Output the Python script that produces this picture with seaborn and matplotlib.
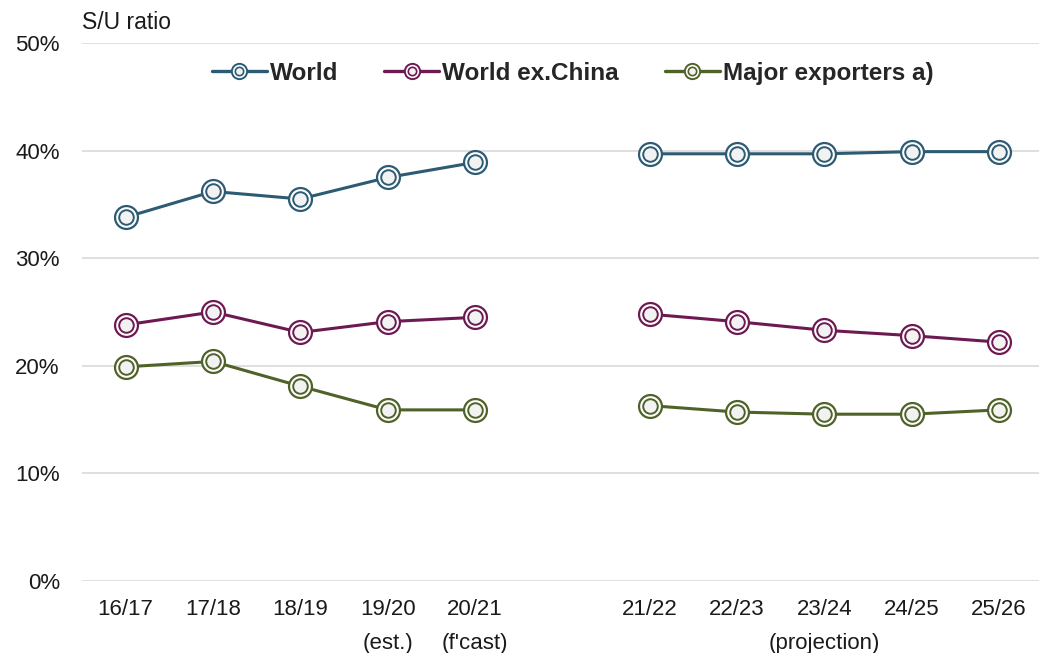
import pandas as pd
import matplotlib.pyplot as plt
import seaborn as sns
from matplotlib.lines import Line2D

# ─────────────────────────────────────────────
# DATA
# ─────────────────────────────────────────────
seasons = ['16/17', '17/18', '18/19', '19/20', '20/21',
           '21/22', '22/23', '23/24', '24/25', '25/26']
tick_labels = ['16/17', '17/18', '18/19', '19/20\n(est.)', "20/21\n(f'cast)",
               '21/22', '22/23', '23/24\n(projection)', '24/25', '25/26']
period = ['hist'] * 5 + ['proj'] * 5

world = [33.8, 36.2, 35.5, 37.5, 38.9, 39.7, 39.7, 39.7, 39.9, 39.9]
world_ex_china = [23.8, 25.0, 23.1, 24.1, 24.5, 24.8, 24.1, 23.3, 22.8, 22.2]
major_exporters = [19.9, 20.4, 18.1, 15.9, 15.9, 16.3, 15.7, 15.5, 15.5, 15.9]

series_names = ['World', 'World ex.China', 'Major exporters a)']
colors = ['#2d5b73', '#6e1a52', '#4f6228']

# position on the category axis, leaving one empty slot between periods
pos = [0, 1, 2, 3, 4, 6, 7, 8, 9, 10]

rows = []
for name, vals in zip(series_names, [world, world_ex_china, major_exporters]):
    for p, per, v in zip(pos, period, vals):
        rows.append({'series': name, 'pos': p, 'period': per, 'value': v})
df = pd.DataFrame(rows)

# ─────────────────────────────────────────────
# PLOT
# ─────────────────────────────────────────────
sns.set_theme(style="white")
plt.rcParams['font.family'] = ['Liberation Sans', 'DejaVu Sans']

fig = plt.figure(figsize=(10.39, 6.53), dpi=100)
ax = fig.add_axes([0.0789, 0.1103, 0.9211, 0.8239])

for name, col in zip(series_names, colors):
    sub = df[df['series'] == name]
    for per in ['hist', 'proj']:
        seg = sub[sub['period'] == per]
        sns.lineplot(data=seg, x='pos', y='value', ax=ax, color=col, linewidth=2.2,
                     marker='o', markersize=16.5, markeredgecolor=col,
                     markerfacecolor='white', markeredgewidth=1.6, zorder=3)
    sns.scatterplot(data=sub, x='pos', y='value', ax=ax, s=110, color='#f2f2f2',
                    edgecolor=col, linewidth=1.4, zorder=4)

ax.set_xlim(-0.5, 10.46)
ax.set_ylim(0, 50)
ax.set_yticks([0, 10, 20, 30, 40, 50])
ax.set_yticklabels([f'{v}%' for v in range(0, 60, 10)], fontsize=16)
ax.set_xticks(pos)
ax.set_xticklabels(tick_labels, fontsize=16, linespacing=1.8)
ax.tick_params(axis='both', length=0, colors='#1a1a1a')
ax.tick_params(axis='x', pad=13)
ax.tick_params(axis='y', pad=16)
ax.set_xlabel('')
ax.set_ylabel('')
ax.grid(axis='y', color='#d9d9d9', linewidth=1.2)
ax.grid(axis='x', visible=False)
for s in ax.spines.values():
    s.set_visible(False)

fig.text(0.079, 0.966, 'S/U ratio', fontsize=16.5, va='center', ha='left',
         color='#1a1a1a')

handles = []
for col in colors:
    outer = Line2D([], [], color=col, linewidth=2.4, marker='o', markersize=11,
                   markeredgecolor=col, markerfacecolor='white', markeredgewidth=1.4)
    inner = Line2D([], [], linestyle='none', marker='o', markersize=6,
                   markeredgecolor=col, markerfacecolor='#f2f2f2', markeredgewidth=1.2)
    handles.append((outer, inner))
fig.legend(handles, series_names, loc='center', bbox_to_anchor=(0.551, 0.888),
           ncol=3, frameon=False, handlelength=2.26, columnspacing=1.9,
           handletextpad=0.12, prop={'weight': 'bold', 'size': 17.5})

plt.savefig('out.png', dpi=100)
plt.close()
